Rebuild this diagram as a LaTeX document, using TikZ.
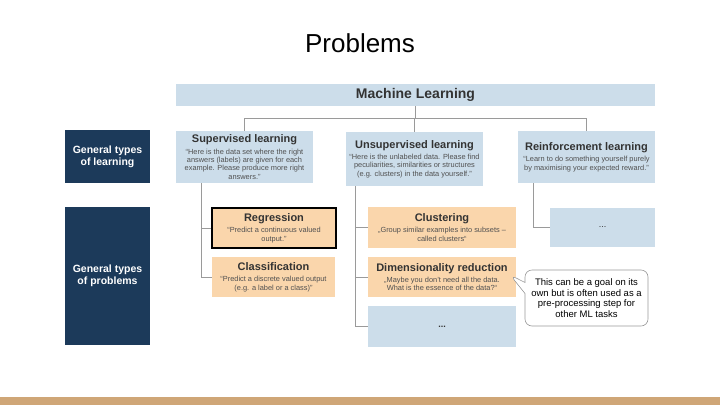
\documentclass[tikz,border=0pt]{standalone}
\usepackage{fontspec}
\setmainfont{Liberation Sans}
\usetikzlibrary{shapes.callouts,calc}
\definecolor{lblue}{HTML}{CCDDEA}
\definecolor{peach}{HTML}{FAD6AC}
\definecolor{navy}{HTML}{1C3A5A}
\definecolor{tanbar}{HTML}{CFA677}
\definecolor{ttlc}{HTML}{333333}
\definecolor{bodyc}{HTML}{505050}
\definecolor{linec}{HTML}{9A9A9A}
\newcommand{\ttlf}{\fontsize{11}{13}\selectfont\bfseries\color{ttlc}}
\newcommand{\bodyf}{\fontsize{7.4}{8.4}\selectfont\color{bodyc}}
\tikzset{
  boxbase/.style={draw=none, inner sep=0pt, align=center, font=\bodyf},
  bluebox/.style={boxbase, fill=lblue},
  peachbox/.style={boxbase, fill=peach},
  navybox/.style={boxbase, fill=navy, text=white, font=\fontsize{10.5}{12}\selectfont\bfseries},
  conn/.style={draw=linec, line width=0.8pt},
}
\begin{document}
\begin{tikzpicture}[x=1pt,y=-1pt]
\useasboundingbox (0,0) rectangle (720,405);
\fill[white] (0,0) rectangle (720,405);
\fill[tanbar] (0,397) rectangle (720,405);

\node[font=\fontsize{26}{30}\selectfont, text=black] (title) at (360,43) {Problems};

\node[bluebox, minimum width=479pt, minimum height=22pt, font=\fontsize{14}{16}\selectfont\bfseries\color{ttlc}] (ml) at (415.5,95) {Machine Learning};

\node[navybox, minimum width=85pt, minimum height=53pt] (gl) at (107.5,156.5) {General types\\of learning};
\node[navybox, minimum width=85pt, minimum height=138pt] (gp) at (107.5,276) {General types\\of problems};

\node[bluebox, minimum width=137pt, minimum height=52pt] (sup) at (244.5,157)
  {{\ttlf Supervised learning}\\[3pt]“Here is the data set where the right\\answers (labels) are given for each\\example. Please produce more right\\answers.”};
\node[bluebox, minimum width=137pt, minimum height=54pt] (unsup) at (414.5,159)
  {{\ttlf Unsupervised learning}\\[3pt]“Here is the unlabeled data. Please find\\peculiarities, similarities or structures\\(e.g. clusters) in the data yourself.”};
\node[bluebox, minimum width=137pt, minimum height=52pt] (rein) at (586.5,157)
  {{\ttlf Reinforcement learning}\\[3pt]“Learn to do something yourself purely\\by maximising your expected reward.”};

\node[peachbox, draw=black, line width=1.8pt, minimum width=124pt, minimum height=40pt] (reg) at (274,228)
  {{\ttlf Regression}\\[3pt]“Predict a continuous valued\\output.”};
\node[peachbox, minimum width=123pt, minimum height=40pt] (cls) at (273.5,277)
  {{\ttlf Classification}\\[3pt]“Predict a discrete valued output\\(e.g. a label or a class)”};

\node[peachbox, minimum width=148pt, minimum height=41pt] (clu) at (442,227.5)
  {{\ttlf Clustering}\\[3pt]„Group similar examples into subsets –\\called clusters“};
\node[peachbox, minimum width=148pt, minimum height=40pt] (dim) at (442,277)
  {{\ttlf Dimensionality reduction}\\[3pt]„Maybe you don’t need all the data.\\What is the essence of the data?“};
\node[bluebox, minimum width=148pt, minimum height=41pt, font=\fontsize{9}{10}\selectfont\bfseries\color{ttlc}] (dotsa) at (442,326.5) {...};
\node[bluebox, minimum width=105pt, minimum height=39pt, font=\fontsize{9}{10}\selectfont\color{ttlc}] (dotsb) at (602.5,227.5) {...};

\node[rectangle callout, draw=linec, line width=0.6pt, fill=white, rounded corners=7pt,
      minimum width=123pt, minimum height=56pt, inner sep=0pt, align=center,
      font=\fontsize{9.5}{10.5}\selectfont, text=black,
      callout absolute pointer={($(dim.east)+(-6,-2)$)}, callout pointer width=11pt] (note) at (586.5,298)
  {This can be a goal on its\\own but is often used as a\\pre-processing step for\\other ML tasks};

% connectors
\draw[conn] (ml.south) -- ++(0,12) coordinate (j);
\draw[conn] (sup.north) |- (j) -| (rein.north);
\draw[conn] (unsup.north) -- (unsup.north |- j);

\coordinate (sv) at ($(sup.south west)+(26,0)$);
\draw[conn] (sv) |- (cls.west);
\draw[conn] (reg.west) -- (reg.west -| sv);

\coordinate (uv) at ($(unsup.south west)+(10,0)$);
\draw[conn] (uv) |- (dotsa.west);
\draw[conn] (clu.west) -- (clu.west -| uv);
\draw[conn] (dim.west) -- (dim.west -| uv);

\coordinate (rv) at ($(rein.south west)+(16,0)$);
\draw[conn] (rv) |- (dotsb.west);
\end{tikzpicture}
\end{document}
